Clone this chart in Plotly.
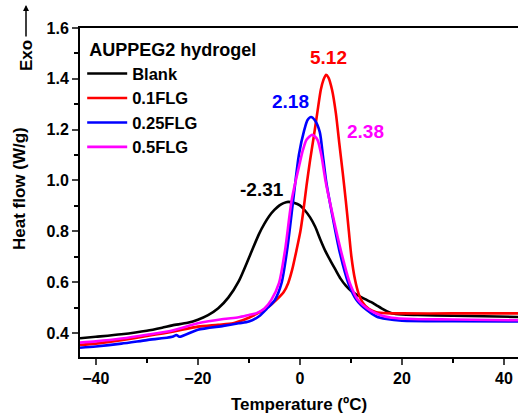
import plotly.graph_objects as go

# ---------------- data ----------------
blank_T = [-43.1, -40, -35, -30, -27, -25, -22, -20, -18, -16, -14, -12, -10, -8, -7, -6, -5, -4, -3.2,
           -2.31, -1.2, 0, 1, 2, 3, 4, 5, 6, 7, 8, 9, 10, 11, 12, 13, 14, 15, 16, 17, 18, 20, 23, 30, 36, 42.8]
blank_V = [0.379, 0.385, 0.395, 0.409, 0.421, 0.430, 0.440, 0.452, 0.470, 0.497, 0.540, 0.603, 0.695, 0.790,
           0.828, 0.860, 0.884, 0.902, 0.911, 0.916, 0.912, 0.902, 0.882, 0.855, 0.818, 0.768, 0.722, 0.684,
           0.648, 0.613, 0.586, 0.566, 0.552, 0.541, 0.531, 0.521, 0.509, 0.497, 0.486, 0.478, 0.473, 0.471,
           0.468, 0.466, 0.463]

flg01_T = [-43.1, -40, -35, -30, -25, -20, -16, -13.1, -12, -10, -8.5, -7.2, -6, -4.6, -3.2, -2.3, -1.5, -0.65,
           0.1, 0.65, 1.3, 2.0, 2.7, 3.4, 4.1, 4.6, 5.12, 5.6, 6.3, 7.05, 7.7, 8.4, 9.0, 9.6, 10.1, 10.8, 11.5,
           12.3, 13.5, 15, 17, 20, 30, 42.8]
flg01_V = [0.353, 0.358, 0.372, 0.388, 0.405, 0.425, 0.432, 0.438, 0.445, 0.460, 0.475, 0.490, 0.505, 0.530,
           0.560, 0.596, 0.650, 0.727, 0.800, 0.876, 0.980, 1.080, 1.170, 1.265, 1.357, 1.395, 1.416, 1.405,
           1.357, 1.265, 1.150, 1.030, 0.920, 0.800, 0.700, 0.610, 0.555, 0.520, 0.495, 0.482, 0.478, 0.477,
           0.477, 0.477]

flg025_T = [-43.1, -40, -35, -30, -25, -24.2, -23.6, -20, -15, -12, -10, -8, -6.5, -4.9, -3.6, -2.5, -1.3,
            -0.2, 0.85, 1.5, 2.18, 3.0, 3.9, 4.5, 5.2, 6.4, 7.7, 9.5, 11.1, 13.1, 15, 17, 20, 30, 42.8]
flg025_V = [0.342, 0.347, 0.358, 0.372, 0.385, 0.392, 0.385, 0.413, 0.428, 0.438, 0.445, 0.466, 0.495, 0.530,
            0.596, 0.727, 0.924, 1.100, 1.198, 1.238, 1.250, 1.235, 1.190, 1.100, 0.990, 0.858, 0.727, 0.596,
            0.530, 0.490, 0.465, 0.455, 0.448, 0.446, 0.445]

flg05_T = [-43.1, -40, -35, -30, -25, -20, -15, -12, -10, -8.5, -7, -5.6, -4.1, -2.9, -1.6, 0.0, 0.6, 1.3,
           2.38, 3.0, 3.5, 4.2, 5.1, 6.5, 8.0, 9.8, 11.4, 13.7, 15.7, 18, 22, 30, 42.8]
flg05_V = [0.362, 0.367, 0.378, 0.393, 0.410, 0.438, 0.455, 0.462, 0.471, 0.478, 0.495, 0.530, 0.596, 0.727,
           0.924, 1.070, 1.120, 1.160, 1.180, 1.172, 1.158, 1.100, 0.990, 0.858, 0.727, 0.596, 0.530, 0.490,
           0.471, 0.460, 0.455, 0.453, 0.450]

series_names = ["Blank", "0.1FLG", "0.25FLG", "0.5FLG"]
series_colors = ["#000000", "#FF0000", "#0000FF", "#FF00FF"]

peak_labels = ["-2.31", "5.12", "2.18", "2.38"]
peak_label_T = [-7.4, 5.7, -1.9, 12.9]
peak_label_V = [0.963, 1.483, 1.309, 1.191]

x_ticks = [-40, -20, 0, 20, 40]

FONT = "Arial, Liberation Sans, sans-serif"

# plot area in pixels: left 80, right 518, top 28, bottom 357
def px_x(px):
    return (px - 80) / 438.0

def px_y(py):
    return (357 - py) / 329.0

fig = go.Figure()
for name, col, T, V in zip(series_names, series_colors,
                           [blank_T, flg01_T, flg025_T, flg05_T],
                           [blank_V, flg01_V, flg025_V, flg05_V]):
    fig.add_trace(go.Scatter(x=T, y=V, mode="lines", name=name,
                             line=dict(color=col, width=2.6, shape="spline", smoothing=0.7)))

for txt, col, tx, ty in zip(peak_labels, series_colors, peak_label_T, peak_label_V):
    fig.add_annotation(x=tx, y=ty, xref="x", yref="y", text=txt, showarrow=False,
                       font=dict(family=FONT, size=19, color=col, weight="bold"))

# Exo arrow
fig.add_annotation(xref="paper", yref="paper", x=px_x(26), y=px_y(56), text="Exo", textangle=-90,
                   xanchor="center", yanchor="middle",
                   showarrow=False, font=dict(family=FONT, size=17, color="black", weight="bold"))
fig.add_annotation(xref="paper", yref="paper", x=px_x(26), y=px_y(5), text="", showarrow=True,
                   ax=0, ay=33, arrowhead=2, arrowsize=0.8, arrowwidth=1.5, arrowcolor="black")

# y-axis title placed as rotated text
fig.add_annotation(xref="paper", yref="paper", x=px_x(19), y=px_y(189), text="Heat flow (W/g)",
                   textangle=-90, xanchor="center", yanchor="middle", showarrow=False,
                   font=dict(family=FONT, size=17, color="black", weight="bold"))

fig.update_layout(
    width=518, height=415,
    margin=dict(l=80, r=0, t=28, b=58),
    paper_bgcolor="white", plot_bgcolor="white",
    font=dict(family=FONT, color="black"),
    showlegend=True,
    legend=dict(x=0.005, y=0.985, xanchor="left", yanchor="top",
                bgcolor="rgba(0,0,0,0)",
                title=dict(text="\u00a0AUPPEG2 hydrogel", font=dict(family=FONT, size=18, weight="bold")),
                font=dict(family=FONT, size=16.5, weight="bold"),
                itemwidth=40, tracegroupgap=0),
    xaxis=dict(range=[-43.1, 42.75], tickvals=x_ticks, ticks="outside", ticklen=6, tickwidth=2,
               showline=True, linewidth=2, linecolor="black", mirror=True,
               showgrid=False, zeroline=False,
               minor=dict(dtick=10, tick0=0, ticks="outside", ticklen=4, tickwidth=2, tickcolor="black"),
               tickfont=dict(family=FONT, size=16, weight="bold"),
               title=dict(text="Temperature (ºC)", font=dict(family=FONT, size=17, weight="bold"),
                          standoff=12)),
    yaxis=dict(range=[0.3055, 1.6], tick0=0.4, dtick=0.2, tickformat=".1f", ticks="outside",
               ticklen=6, tickwidth=2, showline=True, linewidth=2, linecolor="black", mirror=False,
               showgrid=False, zeroline=False,
               minor=dict(dtick=0.1, ticks="outside", ticklen=4, tickwidth=2, tickcolor="black"),
               tickfont=dict(family=FONT, size=16, weight="bold")),
)

fig.write_html("out.html", config={"displayModeBar": False},
               post_script="document.body.style.margin='0';document.body.style.overflow='hidden';")
